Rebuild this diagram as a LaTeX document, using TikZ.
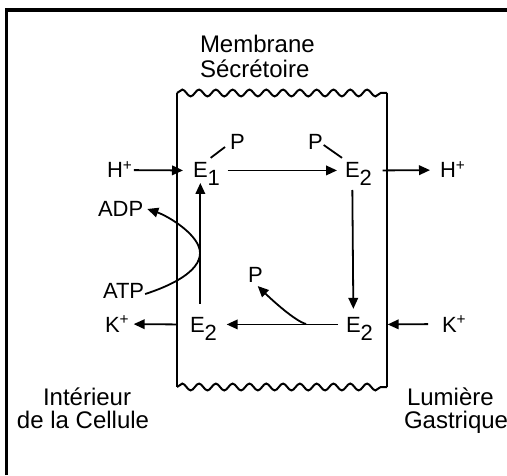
\documentclass[tikz,border=0pt]{standalone}
\usepackage{fontspec}
\setmainfont{Liberation Sans}
\usetikzlibrary{arrows.meta,decorations.pathmorphing,calc}
\newcommand{\esub}[1]{\rlap{\smash{\raisebox{-4pt}{#1}}}}
\begin{document}
\begin{tikzpicture}[x=0.5pt,y=-0.5pt,
  lab/.style={font=\fontsize{11}{13}\selectfont, inner sep=0pt, outer sep=0pt, anchor=base west},
  big/.style={font=\fontsize{12}{14}\selectfont, inner sep=0pt, outer sep=0pt, anchor=base west},
  arr/.style={line width=0.9pt, -{Triangle[length=5.5pt,width=4.8pt]}},
  tick/.style={line width=0.9pt},
  wall/.style={line width=1.1pt},
  wave/.style={line width=1pt, decorate, decoration={snake, amplitude=1.7pt, segment length=8.4pt}},
]
\useasboundingbox (0,0) rectangle (507,475);
% outer frame (left and top edges)
\draw[line width=1.6pt] (6.5,475) -- (6.5,10) -- (507,10);
% membrane
\draw[wave] (177,93) -- (387,93);
\draw[wave] (177,387) -- (387,387);
\draw[wall] (177,93) -- (177,387);
\draw[wall] (387,93) -- (387,387);
% titles
\node[big] (mem1) at (200,53) {Membrane};
\node[big] (mem2) at (200,78) {Sécrétoire};
\node[big] (int1) at (43,405) {Intérieur};
\node[big] (int2) at (17,428) {de la Cellule};
\node[big] (lum1) at (407,405) {Lumière};
\node[big] (lum2) at (404,428) {Gastrique};
% states
\node[lab] (E1)  at (193,178) {E\esub{1}};
\node[lab] (E2t) at (345,178) {E\esub{2}};
\node[lab] (E2r) at (346,332) {E\esub{2}};
\node[lab] (E2l) at (190,332) {E\esub{2}};
% ions and others
\node[lab] (Hl) at (107,178) {H\textsuperscript{+}};
\node[lab] (Hr) at (440,178) {H\textsuperscript{+}};
\node[lab] (Kl) at (105,332) {K\textsuperscript{+}};
\node[lab] (Kr) at (442,332) {K\textsuperscript{+}};
\node[lab] (ADP) at (98,217) {ADP};
\node[lab] (ATP) at (103,298) {ATP};
\node[lab] (P1) at (230,150) {P};
\node[lab] (P2) at (308,150) {P};
\node[lab] (Pm) at (248,282) {P};
\coordinate (br) at (306,324);
% phosphate ticks
\draw[tick] ([shift={(1.5pt,2.5pt)}]E1.north east) -- ([shift={(-2.5pt,1.5pt)}]P1.south west);
\draw[tick] ([shift={(0.5pt,2.5pt)}]P2.south east) -- ([shift={(-1.5pt,2.5pt)}]E2t.north west);
% arrows
\draw[arr] ($(Hl.base east)+(0.5pt,3.94pt)$) -- ([xshift=-5pt]E1.west);
\draw[arr] ([xshift=10pt]E1.east) -- ([xshift=-4pt]E2t.west);
\draw[arr] ([xshift=11.5pt]E2t.east) -- ($(Hr.base west)+(-5pt,3.94pt)$);
\draw[arr] ([yshift=-6pt]E2t.south) -- ([yshift=4pt]E2r.north);
\draw[arr] ($(Kr.base west)+(-7pt,3.94pt)$) -- ([xshift=13.5pt]E2r.east);
\draw[arr] ([xshift=-4pt]E2r.west) -- ([xshift=11pt]E2l.east);
\draw[arr] ([xshift=-6.5pt]E2l.west) -- ($(Kl.base east)+(2pt,3.94pt)$);
\draw[arr] ($(E1.south |- E2l.north)+(0,6.5pt)$) -- ([yshift=-2.5pt]E1.south);
\draw[arr] (br) .. controls (295,321) and (272,300) .. ([shift={(-2.5pt,-2pt)}]Pm.south east);
\draw[arr] ($(ATP.base east)+(0.5pt,2pt)$) .. controls (170,286) and (200,272) .. (200,253)
   .. controls (200,235) and (168,216) .. ($(ADP.base east)+(2pt,4pt)$);
\end{tikzpicture}
\end{document}
